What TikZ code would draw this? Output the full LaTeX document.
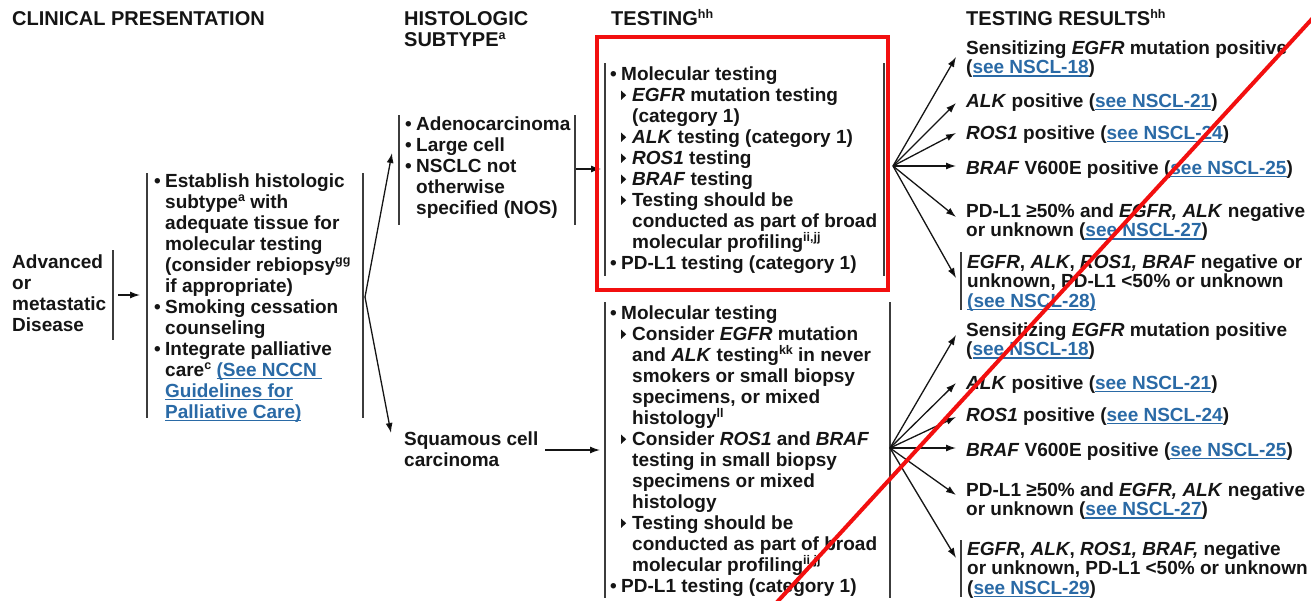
\documentclass[tikz,border=0pt]{standalone}
\usepackage{fontspec}
\setmainfont{Liberation Sans}
\usetikzlibrary{arrows.meta}
\definecolor{ink}{HTML}{151515}
\definecolor{barc}{HTML}{3C3C3C}
\definecolor{linkblue}{HTML}{2A6AA6}
\definecolor{redm}{HTML}{F20F0F}
\newcommand\bl{\makebox[11pt][l]{•}}
\newcommand\inA{\hspace*{11pt}}
\newcommand\trt{\makebox[11pt][l]{\tikz[baseline=0pt,x=1pt,y=1pt]\fill (0,1.2)--(0,10.3)--(5,5.75)--cycle;}}
\newcommand\sups[1]{\smash{\raisebox{6.5pt}{\fontsize{12.5}{12}\selectfont #1}}}
\newcommand\lnk[1]{\textcolor{linkblue}{\setbox0\hbox{#1}\rlap{\rule[-3pt]{\wd0}{1.2pt}}\box0}}
\newcommand\lines[1]{\begin{tabular}[t]{@{}l@{}}#1\end{tabular}}
\tikzset{
 txt/.style={inner sep=0pt, anchor=base west, text=ink, font=\fontsize{19}{21}\selectfont\bfseries},
 hd/.style={txt, font=\fontsize{20}{21}\selectfont\bfseries},
 res/.style={txt, font=\fontsize{19}{19.5}\selectfont\bfseries},
 bar/.style={draw=barc, line width=1.6pt},
 arr/.style={draw=ink, line width=1.3pt, -{Latex[length=10pt,width=7pt]}},
 hl/.style={draw=redm, line width=4pt},
}
\begin{document}
\begin{tikzpicture}[x=1pt,y=-1pt]
\useasboundingbox[fill=white] (0,0) rectangle (1311,600);
% headings
\node[hd] (h1) at (12,25) {CLINICAL PRESENTATION};
\node[hd] (h2) at (404,25) {\lines{HISTOLOGIC\\SUBTYPE\sups{a}}};
\node[hd] (h3) at (611,25) {TESTING\sups{hh}};
\node[hd] (h4) at (966,25) {TESTING RESULTS\sups{hh}};
% clinical presentation
\node[txt] (adv) at (12,268) {\lines{Advanced\\or\\metastatic\\Disease}};
\draw[bar] (113,250) -- (113,340);
\node[txt] (clin) at (154,187) {\lines{%
\bl Establish histologic\\
\inA subtype\sups{a} with\\
\inA adequate tissue for\\
\inA molecular testing\\
\inA (consider rebiopsy\sups{gg}\\
\inA if appropriate)\\
\bl Smoking cessation\\
\inA counseling\\
\bl Integrate palliative\\
\inA care\sups{c} \lnk{(See NCCN }\\
\inA \lnk{Guidelines for}\\
\inA \lnk{Palliative Care)}}};
\draw[bar] (147,173) -- (147,418);
\draw[bar] (363,173) -- (363,418);
% histologic subtype
\node[txt] (hist) at (405,130) {\lines{%
\bl Adenocarcinoma\\
\bl Large cell\\
\bl NSCLC not\\
\inA otherwise\\
\inA specified (NOS)}};
\draw[bar] (399,115) -- (399,225);
\draw[bar] (575,115) -- (575,225);
\node[txt] (squam) at (404,445) {\lines{Squamous cell\\carcinoma}};
% testing
\node[txt] (test1) at (610,80) {\lines{%
\bl Molecular testing\\
\inA\trt \textit{EGFR} mutation testing\\
\inA\inA (category 1)\\
\inA\trt \textit{ALK} testing (category 1)\\
\inA\trt \textit{ROS1} testing\\
\inA\trt \textit{BRAF} testing\\
\inA\trt Testing should be\\
\inA\inA conducted as part of broad\\
\inA\inA molecular profiling\sups{ii,jj}\\
\bl PD-L1 testing (category 1)}};
\draw[bar] (605,63) -- (605,276);
\draw[bar] (884,63) -- (884,276);
\node[txt] (test2) at (610,319) {\lines{%
\bl Molecular testing\\
\inA\trt Consider \textit{EGFR} mutation\\
\inA\inA and \textit{ALK} testing\sups{kk} in never\\
\inA\inA smokers or small biopsy\\
\inA\inA specimens, or mixed\\
\inA\inA histology\sups{ll}\\
\inA\trt Consider \textit{ROS1} and \textit{BRAF}\\
\inA\inA testing in small biopsy\\
\inA\inA specimens or mixed\\
\inA\inA histology\\
\inA\trt Testing should be\\
\inA\inA conducted as part of broad\\
\inA\inA molecular profiling\sups{ii,jj}\\
\bl PD-L1 testing (category 1)}};
\draw[bar] (605,302) -- (605,598);
\draw[bar] (890,302) -- (890,598);
% results (top)
\node[res] (r1) at (966,54) {\lines{Sensitizing \textit{EGFR} mutation positive\\(\lnk{see NSCL-18})}};
\node[res] (r2) at (966,107) {\textit{ALK} positive (\lnk{see NSCL-21})};
\node[res] (r3) at (966,139) {\textit{ROS1} positive (\lnk{see NSCL-24})};
\node[res] (r4) at (966,174) {\textit{BRAF} V600E positive (\lnk{see NSCL-25})};
\node[res] (r5) at (966,217) {\lines{PD-L1 ≥50\% and \textit{EGFR, ALK} negative\\or unknown (\lnk{see NSCL-27})}};
\node[res] (r6) at (967,268) {\lines{\textit{EGFR}, \textit{ALK}, \textit{ROS1, BRAF} negative or\\unknown, PD-L1 <50\% or unknown\\\lnk{(see NSCL-28)}}};
\draw[bar] (961,252) -- (961,310);
% results (bottom)
\node[res] (r7) at (966,336) {\lines{Sensitizing \textit{EGFR} mutation positive\\(\lnk{see NSCL-18})}};
\node[res] (r8) at (966,389) {\textit{ALK} positive (\lnk{see NSCL-21})};
\node[res] (r9) at (966,421) {\textit{ROS1} positive (\lnk{see NSCL-24})};
\node[res] (r10) at (966,456) {\textit{BRAF} V600E positive (\lnk{see NSCL-25})};
\node[res] (r11) at (966,496) {\lines{PD-L1 ≥50\% and \textit{EGFR, ALK} negative\\or unknown (\lnk{see NSCL-27})}};
\node[res] (r12) at (967,555) {\lines{\textit{EGFR}, \textit{ALK}, \textit{ROS1, BRAF,} negative\\or unknown, PD-L1 <50\% or unknown\\(\lnk{see NSCL-29})}};
\draw[bar] (961,540) -- (961,597);
% connector coordinates
\coordinate (advR) at (118,295);
\coordinate (clinL) at (140,295);
\coordinate (brC) at (365,297);
\coordinate (histT) at (392,153);
\coordinate (sqT) at (391,433);
\coordinate (histR) at (576,169);
\coordinate (t1L) at (601,169);
\coordinate (sqR) at (545,450);
\coordinate (t2L) at (600,450);
\coordinate (f1) at (893,166);
\coordinate (f2) at (890,448);
\foreach \n/\y in {1/57,2/103,3/133,4/166,5/217,6/278}{\coordinate (a\n) at (956,\y);}
\foreach \n/\y in {1/335,2/383,3/417,4/448,5/495,6/558}{\coordinate (b\n) at (956,\y);}
% connectors
\draw[arr] (advR) -- (clinL);
\draw[arr] (brC) -- (histT);
\draw[arr] (brC) -- (sqT);
\draw[arr] (histR) -- (t1L);
\draw[arr] (sqR) -- (t2L);
\foreach \n in {1,...,6}{\draw[arr] (f1) -- (a\n); \draw[arr] (f2) -- (b\n);}
% red highlight marks
\draw[hl] (597,37) rectangle (888,290);
\draw[hl] (1320.2,10) -- (769.8,610);
\end{tikzpicture}
\end{document}
